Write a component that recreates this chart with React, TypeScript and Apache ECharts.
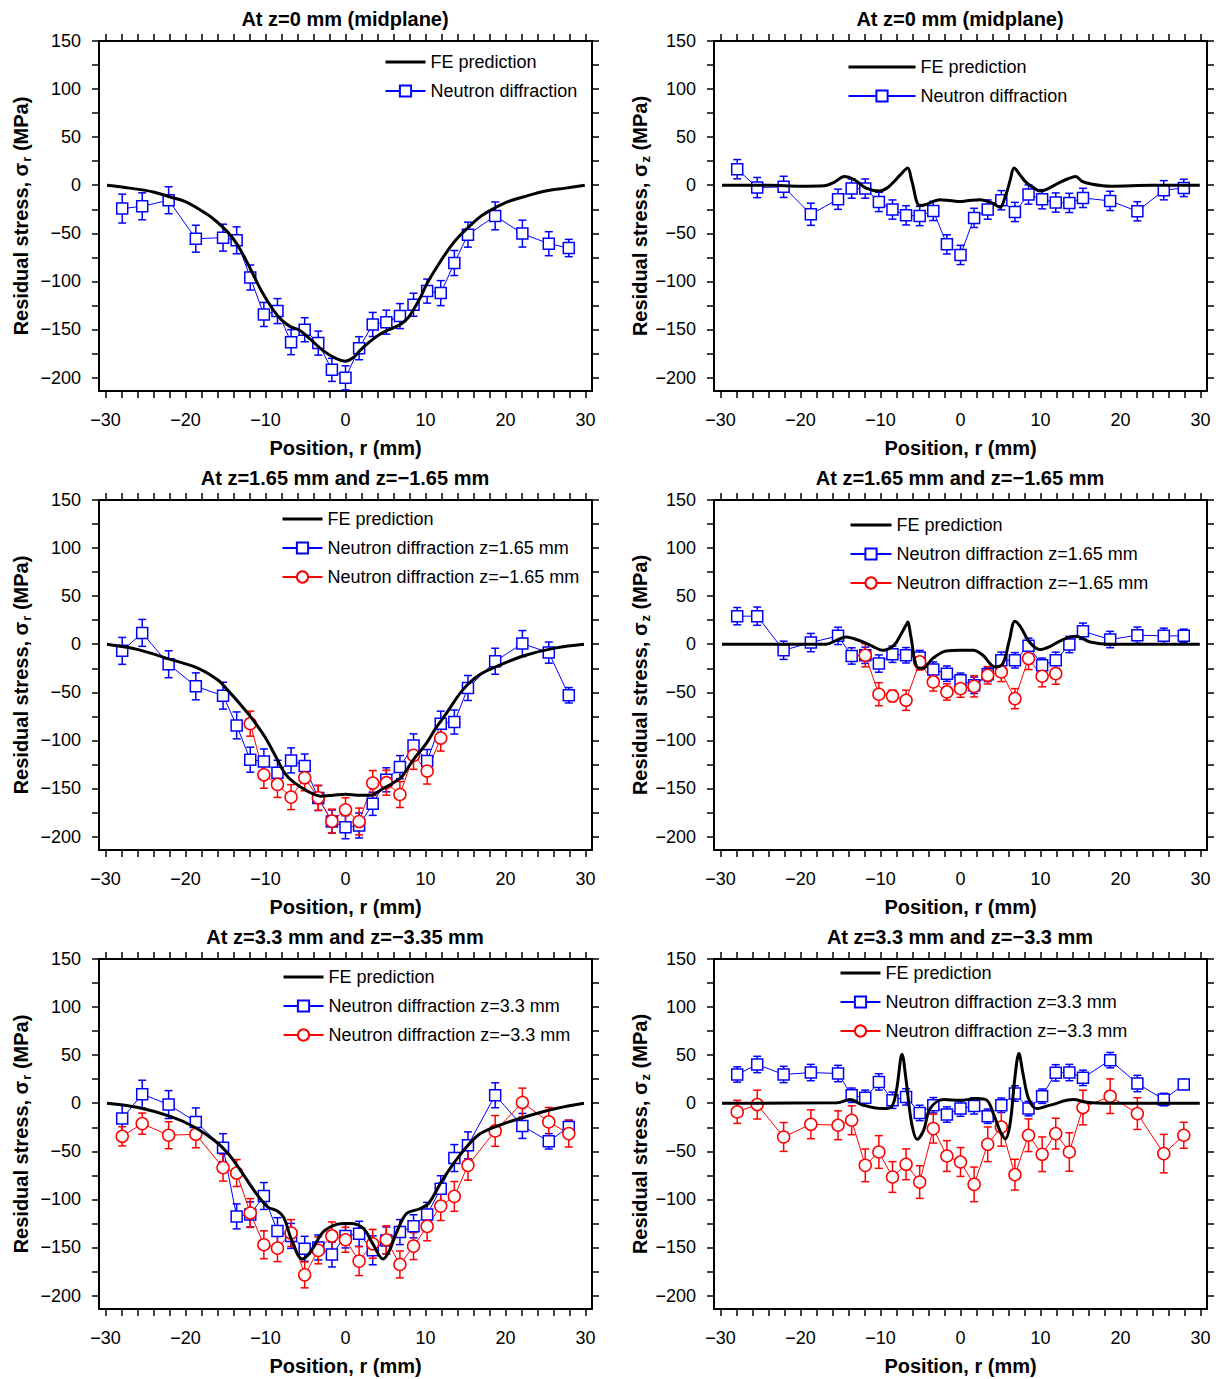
import React, { useEffect, useRef } from 'react';
import * as echarts from 'echarts';

const FONT = '"Liberation Sans", Arial, Helvetica, sans-serif';
const BLUE = '#0000ff';
const RED = '#ff0000';

// Measurement positions (mm)
const POSITIONS = [-27.9, -25.4, -22.1, -18.7, -15.3, -13.6, -11.9, -10.2, -8.5, -6.8, -5.1, -3.4, -1.7, 0, 1.7, 3.4, 5.1, 6.8, 8.5, 10.2, 11.9, 13.6, 15.3, 18.7, 22.1, 25.4, 27.9];
const POSITIONS_INNER = [-11.9, -10.2, -8.5, -6.8, -5.1, -3.4, -1.7, 0, 1.7, 3.4, 5.1, 6.8, 8.5, 10.2, 11.9];

// Panel 1: sigma_r at z=0
const P1_BLUE = [-24.3, -21.9, -15.6, -55.6, -54.5, -57.3, -96, -134.4, -130.9, -163.2, -150.3, -164.2, -192, -200.3, -169.5, -144.8, -142.4, -136.1, -124.3, -110.1, -112.2, -80.9, -51.4, -31.9, -50.3, -60.8, -65.3];
const P1_BLUE_ERR = [15, 14, 14, 14, 14, 14, 13, 12.5, 13, 13, 12.5, 12.5, 12, 12.5, 12, 12.5, 12.5, 13, 12, 12.5, 13, 13, 13, 14.5, 14, 12.5, 9];
const FE_P1 = [[-29.8, 0], [-27, -3], [-24, -7], [-22, -12], [-20, -17], [-18.5, -24], [-16.8, -33], [-14.8, -48], [-13.5, -62], [-12, -85], [-10.5, -110], [-9, -130], [-8, -140], [-6.9, -147], [-5.7, -151], [-4.4, -160], [-2.8, -172], [-1.2, -180], [0, -183], [1, -179], [1.8, -172], [3, -163], [4.3, -155], [5.5, -150], [6.8, -145], [7.8, -138], [8.6, -128], [9.4, -116], [10.2, -102], [11.5, -84], [13.1, -64], [14.2, -53], [15.2, -45], [16.5, -35], [17.7, -28], [20, -18], [22.3, -12], [25, -6], [27.5, -3], [29.9, 0]];

// Panel 2: sigma_z at z=0
const P2_BLUE = [16.7, -2.4, -1.7, -30.2, -14.6, -3.5, -3.5, -17.4, -25.3, -31.3, -32, -26.7, -61.5, -72.5, -34, -25.3, -15.6, -27.8, -9.7, -14.6, -18, -18.4, -13.2, -16.3, -27.1, -5.2, -2.8];
const P2_BLUE_ERR = [10, 10.5, 11, 11.5, 10.5, 10, 10, 10, 10, 10, 10, 10, 10, 10, 10, 10, 10, 10, 10, 10, 10, 10, 10, 10, 10, 10, 9];
const FE_P2 = [[-29.8, 0], [-24, 0], [-20, -1], [-17, -0.5], [-15.8, 3], [-14.5, 9], [-13.3, 6], [-11.8, -3], [-10.1, -6], [-9.2, -3], [-8.4, 3], [-7.5, 11], [-6.6, 18], [-6.1, 5], [-5.1, -21], [-4.3, -20], [-2.6, -15], [-1.3, -16], [0, -17], [1, -16], [2.4, -15], [4.1, -19], [4.9, -23], [5.7, -9], [6.2, 5], [6.7, 18], [7.5, 10], [8.2, 3], [9.2, -3], [9.9, -6], [10.7, -4.5], [12.3, 2.4], [13.5, 7], [14.4, 9], [15.2, 4], [16.2, 1.5], [18.7, -1], [24, 0], [29.9, 0]];

// Panel 3: sigma_r at z=+/-1.65
const P3_BLUE = [-6.9, 11.8, -20.8, -43.8, -53.5, -84.4, -120.1, -121.9, -133.7, -120.8, -126.7, -160, -184.4, -190.3, -188.5, -166, -141, -127.8, -105.2, -121.5, -82.6, -80.9, -45.5, -17.7, 0.7, -8.7, -53.1];
const P3_BLUE_ERR = [14, 14, 14, 14, 14, 14, 13, 13, 13, 13, 12.5, 13, 12, 12, 13, 12, 12.5, 12, 12, 12, 13, 12.5, 13, 13.5, 13.5, 11, 8];
const P3_RED = [-82.6, -135.8, -145.8, -159, -138.9, -159.7, -184, -172.2, -184.4, -144.4, -144, -156.3, -115.6, -131.9, -97.6];
const P3_RED_ERR = [13, 14, 13.5, 13, 13.5, 13, 12.5, 12.5, 14, 13, 13, 13.5, 14.5, 13.5, 13.5];
const FE_P3 = [[-29.8, 0], [-25.9, -5.6], [-21.8, -16], [-18.4, -25], [-15.9, -37.5], [-14.7, -48], [-13.4, -60], [-11.8, -76], [-10.1, -96], [-8.7, -117], [-7.6, -134], [-6.4, -144], [-4.7, -153], [-3.1, -158], [-1.5, -157], [0, -156], [1.5, -157], [3.1, -157], [4.7, -150], [6, -144], [7, -138], [8.4, -121], [10.1, -103], [11.3, -87], [12.6, -72], [14.6, -48], [16.7, -32], [19.2, -22], [22.5, -11.5], [26.3, -3.8], [29.8, 0]];

// Panel 4: sigma_z at z=+/-1.65
const P4_BLUE = [29.2, 29.2, -6.3, 1.7, 8.7, -12.2, -11.5, -20.1, -10.4, -11.5, -13.9, -26.4, -30.6, -37.5, -42.7, -31.3, -16.7, -16.7, -1.7, -21.9, -16.7, -0.3, 13.5, 4.9, 9.4, 8.7, 8.7];
const P4_BLUE_ERR = [9, 9.5, 9.5, 9.5, 9, 8.5, 8.5, 9, 8.5, 8, 7.5, 8, 8, 7.5, 8.5, 7.5, 8.5, 8, 8, 7.5, 8.5, 8.5, 8.5, 8.5, 8.5, 8, 7];
const P4_RED = [-11.5, -52, -53.8, -58.3, -18.4, -39.2, -49.6, -46.2, -43.8, -32.3, -28.8, -56.6, -14.9, -33.3, -30.6];
const P4_RED_ERR = [12, 12, 6, 10.5, 8.5, 9.5, 8.5, 9, 11, 9, 10, 10.5, 11.5, 11, 11];
const FE_P4 = [[-29.8, 0], [-16.8, 0], [-15.5, 4], [-14.3, 7.6], [-13.2, 5.5], [-12.2, 2.4], [-10.8, -3], [-9.7, -6.3], [-8.3, -1], [-7.4, 11], [-6.8, 20], [-6.6, 23], [-6.2, 8], [-5.5, -23], [-4.7, -25], [-3.5, -15], [-1.8, -7], [0, -6.3], [1.6, -6.3], [2.8, -11.5], [4.3, -23.6], [5.3, -20], [6.1, 4], [6.8, 24], [7.5, 18], [8.6, 2.4], [9.9, -5.6], [11.1, -2.8], [12.8, 4.9], [14.4, 8.3], [16.2, 2.4], [18.7, 0], [29.9, 0]];

// Panel 5: sigma_r at z=3.3 / -3.35
const P5_BLUE = [-16, 9.4, -1.4, -19.4, -46.2, -117.7, -115.6, -96.5, -133, -138, -151.4, -150, -157.3, -138, -135.8, -153, -142.7, -134, -128, -115.6, -88.9, -57, -43.8, 8.3, -23.6, -39.6, -24.7];
const P5_BLUE_ERR = [14, 14.5, 14.5, 14.5, 14.5, 13, 13, 14, 14, 13, 13, 13, 13, 12.5, 13, 15, 14, 13, 12, 12.5, 13.5, 14, 14, 13, 13, 8, 7];
const P5_RED = [-34.4, -21.2, -33.3, -32.3, -67, -72.6, -114.2, -147.2, -150.7, -135, -178.5, -153, -138, -142, -164.2, -146.2, -142, -167.7, -148.6, -128.1, -107, -96.9, -64.6, -28.8, 0.7, -19.4, -31.6];
const P5_RED_ERR = [10, 11, 14, 14, 14, 14, 15, 14.5, 14, 14, 13.5, 14, 14.5, 13, 15, 15, 14.5, 14, 14, 15, 15, 15.5, 15.5, 16, 15, 15, 14];
const FE_P5 = [[-29.8, 0], [-25.9, -4.5], [-21.8, -14], [-18.9, -24.7], [-16.4, -38.5], [-14.7, -52], [-13.1, -70], [-11.4, -91], [-9.7, -108], [-8.5, -112], [-7.7, -119], [-6.7, -143], [-5.4, -162], [-4.4, -155], [-2.8, -134], [-1.1, -126], [0, -125], [0.6, -125], [2.2, -130], [3.4, -146], [4.7, -162], [5.5, -153], [6.3, -136], [7.6, -115], [9.2, -110], [10.4, -104], [12.1, -80], [14.1, -56], [16.6, -33], [19.2, -23], [22.5, -14], [26.3, -5.5], [29.8, 0]];

// Panel 6: sigma_z at z=+/-3.3
const P6_BLUE = [29.9, 40.3, 29.9, 31.9, 30.9, 8.3, 5.6, 22.2, 3.1, 6.6, -10.1, -2.1, -11.8, -5.6, -2.8, -13.5, -2.1, 10.1, -5.6, 7.3, 31.6, 31.9, 26.4, 44.8, 20.5, 3.8, 19.5];
const P6_BLUE_ERR = [8, 8.5, 8.5, 8.5, 8.5, 7.5, 8, 8.5, 8.5, 8.5, 8, 8, 8, 8, 8.5, 7.5, 7.5, 8, 7.5, 7.5, 8.5, 8.5, 8, 8, 8.5, 6.5, 5];
const P6_RED = [-9, -1.4, -35.1, -21.9, -22.9, -17.7, -64.6, -50.7, -76.7, -63.5, -82, -26.4, -54.9, -61.1, -84.4, -42.7, -24.7, -74.3, -33.3, -53.1, -31.6, -50.7, -4.5, 7.3, -10.8, -52.4, -33.3];
const P6_RED_ERR = [12, 15, 15, 15, 15, 15, 17, 17, 16, 16, 17, 15, 16, 15, 18, 18, 20, 16, 17, 18, 16, 20, 18, 18, 16.5, 20, 13.5];
const FE_P6 = [[-29.8, 0], [-15.4, 0.5], [-13.8, 3.8], [-12.2, -2], [-9.7, -5.6], [-8.6, -3.5], [-8, 13.5], [-7.3, 51], [-6.8, 24], [-6.1, -21], [-5.4, -37.5], [-4.6, -28], [-3.8, -5.6], [-2.1, 3.8], [0, 3.1], [2, 4.9], [3.3, 3], [4.1, -10.8], [5, -30], [5.6, -37], [6.2, -21], [6.8, 27], [7.3, 51.7], [7.8, 31], [8.5, 5], [9.5, -5.6], [11.2, -2], [14.1, 3.8], [15.8, 1], [18.7, 0], [29.9, 0]];

// Axis ticks / labels
const X_LABEL_VALUES = [-30, -20, -10, 0, 10, 20, 30];
const X_TICK_VALUES = [-30, -28, -26, -24, -22, -20, -18, -16, -14, -12, -10, -8, -6, -4, -2, 0, 2, 4, 6, 8, 10, 12, 14, 16, 18, 20, 22, 24, 26, 28, 30];
const Y_LABEL_VALUES = [-200, -150, -100, -50, 0, 50, 100, 150];
const Y_TICK_VALUES = [-200, -175, -150, -125, -100, -75, -50, -25, 0, 25, 50, 75, 100, 125, 150];

const TITLES = ['At z=0 mm (midplane)', 'At z=0 mm (midplane)', 'At z=1.65 mm and z=\u22121.65 mm', 'At z=1.65 mm and z=\u22121.65 mm', 'At z=3.3 mm and z=\u22123.35 mm', 'At z=3.3 mm and z=\u22123.3 mm'];

const FE_NAME = 'FE prediction';
const ND = 'Neutron diffraction';
const ND_P165 = 'Neutron diffraction z=1.65 mm';
const ND_M165 = 'Neutron diffraction z=\u22121.65 mm';
const ND_P33 = 'Neutron diffraction z=3.3 mm';
const ND_M33 = 'Neutron diffraction z=\u22123.3 mm';

const fmt = (v: number) => (v < 0 ? '\u2212' + Math.abs(v) : String(v));

type Meas = { name: string; color: string; symbol: string; x: number[]; y: number[]; e: number[] };
type Panel = { comp: string; left: number; top: number; fe: number[][]; meas: Meas[]; lg: { left: number; top: number; w: number } };

const LEFT_X = 99;
const RIGHT_X = 714;
const ROW_Y = [41, 500, 959];
const PW = 493;
const PH = 350;

const PANELS: Panel[] = [
  { comp: 'r', left: LEFT_X, top: ROW_Y[0], fe: FE_P1, meas: [{ name: ND, color: BLUE, symbol: 'rect', x: POSITIONS, y: P1_BLUE, e: P1_BLUE_ERR }], lg: { left: 384, top: 53, w: 40 } },
  { comp: 'z', left: RIGHT_X, top: ROW_Y[0], fe: FE_P2, meas: [{ name: ND, color: BLUE, symbol: 'rect', x: POSITIONS, y: P2_BLUE, e: P2_BLUE_ERR }], lg: { left: 847, top: 58, w: 67 } },
  { comp: 'r', left: LEFT_X, top: ROW_Y[1], fe: FE_P3, meas: [{ name: ND_P165, color: BLUE, symbol: 'rect', x: POSITIONS, y: P3_BLUE, e: P3_BLUE_ERR }, { name: ND_M165, color: RED, symbol: 'circle', x: POSITIONS_INNER, y: P3_RED, e: P3_RED_ERR }], lg: { left: 281, top: 510, w: 40 } },
  { comp: 'z', left: RIGHT_X, top: ROW_Y[1], fe: FE_P4, meas: [{ name: ND_P165, color: BLUE, symbol: 'rect', x: POSITIONS, y: P4_BLUE, e: P4_BLUE_ERR }, { name: ND_M165, color: RED, symbol: 'circle', x: POSITIONS_INNER, y: P4_RED, e: P4_RED_ERR }], lg: { left: 849, top: 516, w: 41 } },
  { comp: 'r', left: LEFT_X, top: ROW_Y[2], fe: FE_P5, meas: [{ name: ND_P33, color: BLUE, symbol: 'rect', x: POSITIONS, y: P5_BLUE, e: P5_BLUE_ERR }, { name: ND_M33, color: RED, symbol: 'circle', x: POSITIONS, y: P5_RED, e: P5_RED_ERR }], lg: { left: 282, top: 968, w: 40 } },
  { comp: 'z', left: RIGHT_X, top: ROW_Y[2], fe: FE_P6, meas: [{ name: ND_P33, color: BLUE, symbol: 'rect', x: POSITIONS, y: P6_BLUE, e: P6_BLUE_ERR }, { name: ND_M33, color: RED, symbol: 'circle', x: POSITIONS, y: P6_RED, e: P6_RED_ERR }], lg: { left: 839, top: 964, w: 40 } },
];

function buildOption() {
  const grid: any[] = [];
  const xAxis: any[] = [];
  const yAxis: any[] = [];
  const series: any[] = [];
  const legend: any[] = [];
  const graphic: any[] = [];

  const lineAxis = { show: true, onZero: false, lineStyle: { color: '#000', width: 2 } };
  const tick = (vals: number[]) => ({ show: true, customValues: vals, length: 7, inside: false, lineStyle: { color: '#000', width: 1.5 } });

  PANELS.forEach((p, i) => {
    grid.push({ left: p.left, top: p.top, width: PW, height: PH, containLabel: false });
    const xi = xAxis.length;
    xAxis.push({
      gridIndex: i, type: 'value', min: -30.8, max: 30.8, position: 'bottom',
      axisLine: lineAxis, axisTick: tick(X_TICK_VALUES),
      axisLabel: { show: true, customValues: X_LABEL_VALUES, formatter: fmt, color: '#000', fontSize: 18, fontFamily: FONT, margin: 20 },
      splitLine: { show: false },
      name: 'Position, r (mm)', nameLocation: 'middle', nameGap: 47,
      nameTextStyle: { fontSize: 20, fontWeight: 'bold', fontFamily: FONT, color: '#000' },
    });
    xAxis.push({
      gridIndex: i, type: 'value', min: -30.8, max: 30.8, position: 'top',
      axisLine: lineAxis, axisTick: tick(X_TICK_VALUES), axisLabel: { show: false }, splitLine: { show: false },
    });
    const yi = yAxis.length;
    yAxis.push({
      gridIndex: i, type: 'value', min: -214, max: 150, position: 'left',
      axisLine: lineAxis, axisTick: tick(Y_TICK_VALUES),
      axisLabel: { show: true, customValues: Y_LABEL_VALUES, formatter: fmt, color: '#000', fontSize: 18, fontFamily: FONT, margin: 18 },
      splitLine: { show: false },
      name: 'Residual stress, \u03c3{sub|' + p.comp + '} (MPa)', nameLocation: 'middle', nameGap: p.left === LEFT_X ? 66 : 62,
      nameTextStyle: {
        fontSize: 20, fontWeight: 'bold', fontFamily: FONT, color: '#000',
        rich: { sub: { fontSize: 13, fontWeight: 'bold', fontFamily: FONT, color: '#000', verticalAlign: 'top', padding: [11, 0, 0, 1] } },
      },
    });
    yAxis.push({
      gridIndex: i, type: 'value', min: -214, max: 150, position: 'right',
      axisLine: lineAxis, axisTick: tick(Y_TICK_VALUES), axisLabel: { show: false }, splitLine: { show: false },
    });

    p.meas.forEach((m) => {
      series.push({
        type: 'custom', name: m.name + ' err', xAxisIndex: xi, yAxisIndex: yi, silent: true, z: 1,
        data: m.x.map((r, k) => [r, m.y[k] - m.e[k], m.y[k] + m.e[k]]),
        encode: { x: 0, y: [1, 2] },
        renderItem: (params: any, api: any) => {
          const xv = api.value(0);
          const lo = api.coord([xv, api.value(1)]);
          const hi = api.coord([xv, api.value(2)]);
          const hw = 4;
          const st = { stroke: m.color, lineWidth: 1.5 };
          return {
            type: 'group',
            children: [
              { type: 'line', shape: { x1: lo[0], y1: lo[1], x2: hi[0], y2: hi[1] }, style: st },
              { type: 'line', shape: { x1: lo[0] - hw, y1: lo[1], x2: lo[0] + hw, y2: lo[1] }, style: st },
              { type: 'line', shape: { x1: hi[0] - hw, y1: hi[1], x2: hi[0] + hw, y2: hi[1] }, style: st },
            ],
          };
        },
      });
      series.push({
        type: 'line', name: m.name, xAxisIndex: xi, yAxisIndex: yi, z: 2,
        data: m.x.map((r, k) => [r, m.y[k]]),
        symbol: m.symbol, symbolSize: m.symbol === 'rect' ? 11 : 12, showSymbol: true,
        itemStyle: { color: '#ffffff', borderColor: m.color, borderWidth: 1.5 },
        lineStyle: { color: m.color, width: 1 },
      });
    });

    series.push({
      type: 'line', name: FE_NAME, xAxisIndex: xi, yAxisIndex: yi, z: 3,
      data: p.fe, symbol: 'none', showSymbol: false, smooth: 0.35,
      lineStyle: { color: '#000', width: 3 }, itemStyle: { color: '#000', opacity: 0 },
    });

    legend.push({
      show: true,
      data: [
        { name: FE_NAME, itemStyle: { opacity: 0 }, lineStyle: { color: '#000', width: 3, opacity: 1 } },
        ...p.meas.map((m) => ({ name: m.name })),
      ],
      left: p.lg.left, top: p.lg.top, orient: 'vertical', padding: 0,
      itemWidth: p.lg.w, itemHeight: 14, itemGap: 11, selectedMode: false,
      textStyle: { fontSize: 18, fontFamily: FONT, color: '#000', lineHeight: 18 },
    });

    graphic.push({
      type: 'text', x: p.left + PW / 2 - 0.5, y: p.top - 22,
      style: { text: TITLES[i], font: 'bold 20px ' + FONT, fill: '#000', align: 'center', verticalAlign: 'middle', textAlign: 'center', textVerticalAlign: 'middle' },
    });
  });

  return { animation: false, backgroundColor: '#ffffff', grid, xAxis, yAxis, series, legend, graphic };
}

export default function App() {
  const ref = useRef<HTMLDivElement>(null);
  useEffect(() => {
    if (!ref.current) return;
    const chart = echarts.init(ref.current, undefined, { renderer: 'svg' });
    chart.setOption(buildOption() as any);
    return () => chart.dispose();
  }, []);
  return <div ref={ref} style={{ position: 'absolute', left: 0, top: 0, width: 1223, height: 1379 }} />;
}
